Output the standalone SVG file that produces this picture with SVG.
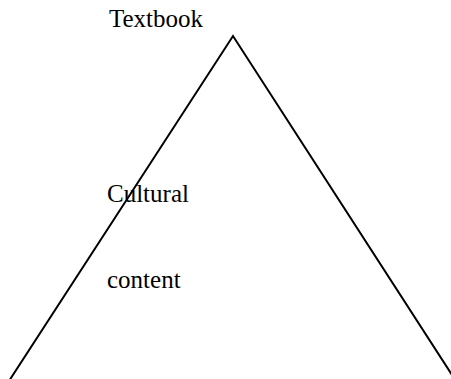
<svg xmlns="http://www.w3.org/2000/svg" width="451" height="379" viewBox="0 0 451 379">
  <style>
    .lbl { font-family: "Liberation Serif", "Times New Roman", serif; font-size: 25px; fill: #000; }
    .edge { fill: none; stroke: #000; stroke-width: 2; }
  </style>
  <rect width="451" height="379" fill="#fff"/>
  <g id="connectors">
    <path class="edge" d="M9,381 L233,36 L452,375"/>
  </g>
  <g id="textbook">
    <text class="lbl" x="109" y="27">Textbook</text>
  </g>
  <g id="cultural-content">
    <text class="lbl" x="107" y="202">Cultural</text>
    <text class="lbl" x="107" y="288">content</text>
  </g>
</svg>
